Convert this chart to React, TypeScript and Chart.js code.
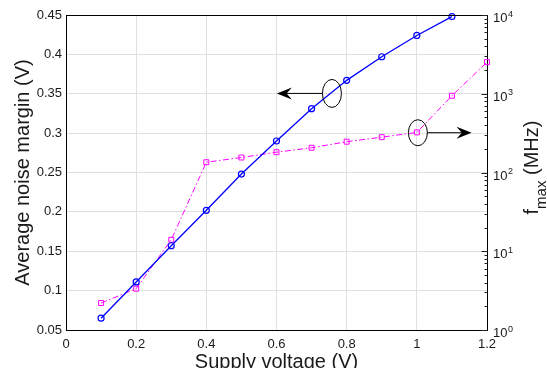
import React, { useEffect, useRef } from 'react';
import { Chart, registerables } from 'chart.js';

Chart.register(...registerables);

// ---- data ----
const voltage = [0.1, 0.2, 0.3, 0.4, 0.5, 0.6, 0.7, 0.8, 0.9, 1.0, 1.1, 1.2];
const noiseMargin = [0.065, 0.111, 0.157, 0.202, 0.248, 0.29, 0.331, 0.367, 0.397, 0.424, 0.448];
const fmaxMHz = [2.2, 3.35, 14, 135, 155, 181, 206, 246, 281, 323, 943, 2520];
const rightDecades = [0, 1, 2, 3, 4];

// annotation markers (data units: supply voltage / noise margin)
const ellipseV = [0.758, 1.003];
const ellipseNM = [0.3504, 0.3005];
const arrowTipV = [0.601, 1.156];

const FONT = '"Liberation Sans", Arial, Helvetica, sans-serif';
const TEXT = '#1a1a1a';

const fmt = (v: number) => String(Number(Number(v).toFixed(2)));

const overlay = {
  id: 'overlay',
  afterDraw(chart: any) {
    const { ctx, chartArea: ca, scales } = chart;
    const xs = scales.x, ys = scales.y, y2 = scales.y2;
    ctx.save();
    // top border of box
    ctx.strokeStyle = '#000';
    ctx.lineWidth = 1;
    const ty = Math.floor(ca.top) + 0.5;
    ctx.beginPath();
    ctx.moveTo(ca.left, ty);
    ctx.lineTo(ca.right + 0.5, ty);
    ctx.stroke();

    // right log axis ticks
    const rx = Math.floor(ca.right) + 0.5;
    ctx.strokeStyle = '#222';
    for (let i = 0; i < rightDecades.length; i++) {
      const k = rightDecades[i];
      const p = Math.round(y2.getPixelForValue(Math.pow(10, k))) + 0.5;
      ctx.beginPath();
      ctx.moveTo(rx - 6, p);
      ctx.lineTo(rx, p);
      ctx.stroke();
      if (i < rightDecades.length - 1) {
        for (let m = 2; m <= 9; m++) {
          const pm = Math.round(y2.getPixelForValue(m * Math.pow(10, k))) + 0.5;
          ctx.beginPath();
          ctx.moveTo(rx - 3, pm);
          ctx.lineTo(rx, pm);
          ctx.stroke();
        }
      }
    }
    // right tick labels 10^k
    ctx.fillStyle = TEXT;
    ctx.textBaseline = 'alphabetic';
    ctx.textAlign = 'left';
    for (const k of rightDecades) {
      const p = y2.getPixelForValue(Math.pow(10, k));
      ctx.font = `13px ${FONT}`;
      const bx = ca.right + 6;
      ctx.fillText('10', bx, p + 7);
      const w = ctx.measureText('10').width;
      ctx.font = `9px ${FONT}`;
      ctx.fillText(String(k), bx + w + 0.5, p + 1.5);
    }
    // right axis title: f_max (MHz)
    const cy = (ca.top + ca.bottom) / 2 - 5;
    ctx.save();
    ctx.translate(538, cy);
    ctx.rotate(-Math.PI / 2);
    ctx.font = `20px ${FONT}`;
    const wf = ctx.measureText('f').width;
    const wr = ctx.measureText(' (MHz)').width;
    ctx.font = `15px ${FONT}`;
    const wm = ctx.measureText('max').width;
    let sx = -(wf + wm + wr) / 2;
    ctx.font = `20px ${FONT}`;
    ctx.fillText('f', sx, 0);
    sx += wf;
    ctx.font = `15px ${FONT}`;
    ctx.fillText('max', sx, 8);
    sx += wm;
    ctx.font = `20px ${FONT}`;
    ctx.fillText(' (MHz)', sx, 0);
    ctx.restore();

    // ellipses and arrows
    const radii = [
      [9.5, 14],
      [9.5, 13],
    ];
    ctx.strokeStyle = '#000';
    ctx.fillStyle = '#000';
    ctx.lineWidth = 1;
    for (let i = 0; i < ellipseV.length; i++) {
      const cx = xs.getPixelForValue(ellipseV[i]);
      const cyy = ys.getPixelForValue(ellipseNM[i]);
      const [erx, ery] = radii[i];
      ctx.beginPath();
      ctx.ellipse(cx, cyy, erx, ery, 0, 0, Math.PI * 2);
      ctx.stroke();
      const tip = xs.getPixelForValue(arrowTipV[i]);
      const dir = tip < cx ? -1 : 1;
      const start = cx + dir * erx;
      const L = 15;
      const W = 6;
      ctx.beginPath();
      ctx.moveTo(start, cyy);
      ctx.lineTo(tip - dir * L * 0.6, cyy);
      ctx.stroke();
      ctx.beginPath();
      ctx.moveTo(tip, cyy);
      ctx.lineTo(tip - dir * L, cyy - W);
      ctx.lineTo(tip - dir * L * 0.65, cyy);
      ctx.lineTo(tip - dir * L, cyy + W);
      ctx.closePath();
      ctx.fill();
    }
    ctx.restore();
  },
};

export default function App() {
  const ref = useRef<HTMLCanvasElement>(null);
  useEffect(() => {
    if (!ref.current) return;
    Chart.defaults.font.family = FONT;
    const chart = new Chart(ref.current, {
      type: 'line',
      data: {
        datasets: [
          {
            label: 'Average noise margin',
            data: noiseMargin.map((v, i) => ({ x: voltage[i], y: v })),
            yAxisID: 'y',
            borderColor: '#0000ff',
            borderWidth: 1.3,
            pointStyle: 'circle',
            pointRadius: 3,
            pointBorderWidth: 1.2,
            pointBorderColor: '#0000ff',
            pointBackgroundColor: 'rgba(0,0,0,0)',
            fill: false,
            tension: 0,
            clip: false as any,
          },
          {
            label: 'fmax',
            data: fmaxMHz.map((v, i) => ({ x: voltage[i], y: v })),
            yAxisID: 'y2',
            borderColor: '#ff00ff',
            borderWidth: 1,
            borderDash: [6, 2.5, 1.5, 2.5],
            pointStyle: 'rect',
            pointRadius: 3.5,
            pointBorderWidth: 1,
            pointBorderColor: '#ff00ff',
            pointBackgroundColor: 'rgba(0,0,0,0)',
            fill: false,
            tension: 0,
            clip: false as any,
          },
        ],
      },
      options: {
        animation: false,
        responsive: false,
        layout: { padding: { top: 15, left: 0, right: 0, bottom: 0 } },
        plugins: { legend: { display: false }, tooltip: { enabled: false } },
        scales: {
          x: {
            type: 'linear',
            min: 0,
            max: 1.2,
            afterFit: (s: any) => {
              s.height = 38;
            },
            ticks: {
              stepSize: 0.2,
              padding: 7,
              color: TEXT,
              font: { size: 13, family: FONT },
              callback: (v: any) => fmt(v),
              maxRotation: 0,
            },
            grid: { color: '#e0e0e0', lineWidth: 1, drawTicks: false },
            border: { color: '#000', width: 1 },
            title: {
              display: true,
              text: 'Supply voltage (V)',
              color: TEXT,
              font: { size: 20, family: FONT, lineHeight: 1 },
              padding: { top: 0, bottom: -4 },
            },
          },
          y: {
            type: 'linear',
            position: 'left',
            min: 0.05,
            max: 0.45,
            afterFit: (s: any) => {
              s.width = 66;
            },
            ticks: {
              stepSize: 0.05,
              padding: 4,
              color: TEXT,
              font: { size: 13, family: FONT },
              callback: (v: any) => fmt(v),
            },
            grid: { color: '#e0e0e0', lineWidth: 1, drawTicks: false },
            border: { color: '#000', width: 1 },
            title: {
              display: true,
              text: 'Average noise margin (V)',
              color: TEXT,
              font: { size: 20, family: FONT, lineHeight: 1 },
              padding: { top: 13, bottom: 0 },
            },
          },
          y2: {
            type: 'logarithmic',
            position: 'right',
            min: 1,
            max: 10000,
            afterFit: (s: any) => {
              s.width = 60;
            },
            ticks: { display: false },
            grid: { drawOnChartArea: false, drawTicks: false },
            border: { color: '#000', width: 1 },
            title: { display: false },
          },
        },
      },
      plugins: [overlay],
    } as any);
    return () => chart.destroy();
  }, []);
  return (
    <div style={{ position: 'absolute', left: 0, top: 0, width: 547, height: 368, background: '#fff' }}>
      <canvas ref={ref} width={547} height={368} style={{ display: 'block' }} />
    </div>
  );
}
